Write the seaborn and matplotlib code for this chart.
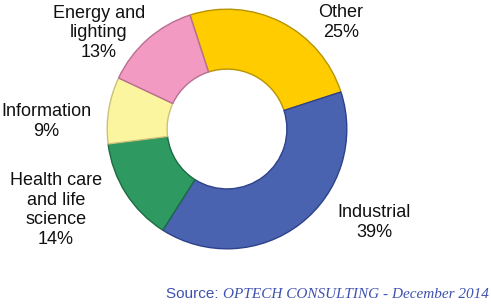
import matplotlib
matplotlib.use("Agg")
import matplotlib.pyplot as plt
from matplotlib.text import Annotation
import seaborn as sns

sns.set_theme(style="white")
plt.rcParams['font.family'] = ['Liberation Sans', 'DejaVu Sans']

categories = ["Other", "Industrial", "Health care\nand life\nscience", "Information", "Energy and\nlighting"]
values = [25, 39, 14, 9, 13]
colors = ["#FFCC00", "#4A63B0", "#2E9A62", "#FBF5A0", "#F39AC2"]
edge_colors = ["#B89300", "#2E418A", "#1D6B42", "#C9C27A", "#B86F90"]
label_pos = [(341, 37), (374, 237), (56, 244), (46, 136), (99, 57)]  # pixel baselines of last line

W, H = 491, 304
fig = plt.figure(figsize=(W / 100, H / 100), dpi=100)
cx, cy, r = 227, 129, 121
ax = fig.add_axes([(cx - r) / W, (H - cy - r) / H, 2 * r / W, 2 * r / H])
wedges, _ = ax.pie(values, colors=colors, startangle=108, counterclock=False,
                   radius=1.0, wedgeprops=dict(width=0.5, linewidth=1.0))
for w, ec in zip(wedges, edge_colors):
    w.set_edgecolor(ec)
ax.set_xlim(-1.01, 1.01)
ax.set_ylim(-1.01, 1.01)
ax.set_aspect("equal")
ax.axis("off")

for cat, val, (px, py) in zip(categories, values, label_pos):
    fig.text(px / W, 1 - py / H, f"{cat}\n{val}%", ha="center", va="baseline",
             fontsize=13, linespacing=1.2, color="#111111", multialignment="center")

src_color = "#3F51B0"
src_y = 1 - 298 / H
src = fig.text(489 / W, src_y, "OPTECH CONSULTING - December 2014", ha="right",
               va="baseline", fontsize=11, family=["Liberation Serif"], style="italic",
               color=src_color)
fig.add_artist(Annotation("Source: ", xy=(0, src_y), xycoords=(src, "figure fraction"),
                          ha="right", va="baseline", fontsize=11, color=src_color))

fig.savefig("out.png", dpi=100, facecolor="white")
